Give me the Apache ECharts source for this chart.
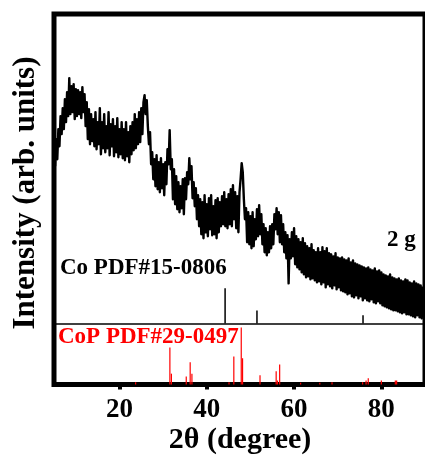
<!DOCTYPE html>
<html>
<head>
<meta charset="utf-8">
<script src="https://cdn.jsdelivr.net/npm/echarts@6/dist/echarts.min.js"></script>
<style>
html, body { margin: 0; padding: 0; background: #fff; }
#chart { width: 425px; height: 459px; }
</style>
</head>
<body>
<div id="chart"></div>
<script>
// XRD pattern of the 2 g sample
// 2theta starts at 5.25 deg, one value every 0.25 deg
const THETA_START = 5.25;
const THETA_STEP = 0.25;
const intensity = [
  218,245,225,255,238,268,250,276,
  255,285,262,292,268,306,
  270,298,272,300,265,295,
  268,294,270,292,266,297,272,
  290,258,282,245,275,
  240,270,243,265,238,272,
  235,262,240,276,230,262,236,270,
  232,258,236,272,229,260,238,265,
  228,258,232,266,227,255,230,262,
  226,255,224,262,228,252,222,258,
  230,262,234,270,236,265,
  240,272,242,276,250,282,
  289,270,284,
  258,240,252,220,232,205,
  225,198,229,195,222,192,226,196,220,189,
  222,200,235,220,254,215,
  225,185,215,180,208,175,202,172,
  198,176,205,170,206,185,212,
  200,226,205,218,
  186,202,178,196,165,189,158,
  185,150,182,146,189,152,180,
  148,186,155,189,149,178,150,184,146,186,152,
  182,158,188,160,192,158,185,
  156,190,160,195,158,199,165,192,156,188,152,192,
  205,221,212,185,
  165,176,142,172,140,168,136,172,138,
  165,145,175,148,179,150,170,
  140,160,132,156,129,152,132,158,
  136,160,140,170,155,176,150,
  172,142,169,140,160,132,152,126,149,
  101,145,126,152,128,156,120,
  148,117,145,115,142,112,146,110,141,107,
  138,108,136,105,140,106,134,104,132,
  102,136,103,132,100,137,102,133,97,136,100,131,
  98,130,96,128,99,131,95,127,97,126,94,127,
  93,125,92,124,90,126,91,122,88,124,87,121,
  89,120,86,119,88,118,84,117,86,116,84,117,
  83,115,85,114,82,116,81,113,83,114,81,112,
  79,110,78,109,77,108,76,110,75,107,74,106,
  74,105,73,106,72,104,71,103,72,105,70,104,
  70,102,69,101,68,103,67,101,69,100,67,99,66,98
];

// Co PDF#15-0806 sticks: 2theta and relative intensity (%)
const coPeaks = [44.2, 51.5, 75.8];
const coRel = [100, 37, 23];

// CoP PDF#29-0497 sticks
const copPeaks = [23.7, 31.55, 31.9, 35.3, 36.2, 36.6, 45.1, 46.2, 47.9, 48.2, 52.2, 55.9, 56.2, 56.7, 61.5, 65.9, 68.7, 75.7, 76.5, 77.0, 80.0, 83.2, 83.5];
const copRel = [4, 65, 19, 14, 39, 19, 4, 49, 100, 46, 16, 23, 7, 35, 3, 3, 4, 4, 7, 11, 7, 7, 7];

const xTicks = [20, 40, 60, 80];

// where the two reference panels sit on the y scale
const CO_BASE = 61;
const CO_SCALE = 0.35;
const COP_SCALE = 0.57;

const FONT = '"Liberation Serif", "Times New Roman", serif';

var pattern = intensity.map((v, i) => [THETA_START + i * THETA_STEP, v]);
var coSticks = coPeaks.map((x, i) => [x, CO_BASE, coRel[i] * CO_SCALE]);
var copSticks = copPeaks.map((x, i) => [x, 0, copRel[i] * COP_SCALE]);

function stickRenderer(color, width) {
  return (params, api) => {
    let p0 = api.coord([api.value(0), api.value(1)]);
    let p1 = api.coord([api.value(0), api.value(1) + api.value(2)]);
    return {
      type: 'line',
      shape: {x1: p0[0], y1: p0[1], x2: p1[0], y2: p1[1]},
      style: {stroke: color, lineWidth: width}
    };
  };
}

var chart = echarts.init(document.getElementById('chart'));
chart.setOption({
  animation: false,
  backgroundColor: '#fff',
  grid: {
    left: 54, top: 14, right: -4, bottom: 74.5,
    show: true, borderColor: '#000', borderWidth: 5
  },
  xAxis: {
    type: 'value',
    min: 5,
    max: 90,
    axisLine: {show: false},
    splitLine: {show: false},
    axisTick: {
      show: true, inside: false, length: 5,
      customValues: xTicks,
      lineStyle: {color: '#000', width: 4}
    },
    axisLabel: {
      customValues: xTicks,
      margin: 12,
      color: '#000',
      fontFamily: FONT,
      fontWeight: 'bold',
      fontSize: 27
    }
  },
  yAxis: {
    type: 'value',
    min: 0,
    max: 370,
    axisLine: {show: false},
    axisTick: {show: false},
    axisLabel: {show: false},
    splitLine: {show: false}
  },
  series: [
    {
      type: 'line',
      data: pattern,
      symbol: 'none',
      lineStyle: {color: '#000', width: 2.4, join: 'round'},
      z: 3,
      markLine: {
        silent: true,
        symbol: 'none',
        label: {show: false},
        lineStyle: {color: '#000', width: 1.5, type: 'solid'},
        data: [{yAxis: CO_BASE}]
      }
    },
    {
      type: 'custom',
      data: coSticks,
      renderItem: stickRenderer('#000', 1.5),
      z: 4
    },
    {
      type: 'custom',
      data: copSticks,
      renderItem: stickRenderer('#ff0000', 1.2),
      z: 4
    }
  ],
  graphic: [
    {
      type: 'text', left: 60, top: 257,
      style: {text: 'Co PDF#15-0806', fill: '#000', font: 'bold 23px ' + FONT}
    },
    {
      type: 'text', left: 58, top: 326,
      style: {text: 'CoP PDF#29-0497', fill: '#ff0000', font: 'bold 23px ' + FONT}
    },
    {
      type: 'text', left: 387, top: 229,
      style: {text: '2 g', fill: '#000', font: 'bold 23px ' + FONT}
    },
    {
      type: 'text', x: 26, y: 193, rotation: Math.PI / 2,
      style: {
        text: 'Intensity (arb. units)', fill: '#000',
        font: 'bold 31px ' + FONT, align: 'center', verticalAlign: 'middle'
      }
    },
    {
      type: 'text', x: 240, y: 440,
      style: {
        text: '2θ (degree)', fill: '#000',
        font: 'bold 30px ' + FONT, align: 'center', verticalAlign: 'middle'
      }
    }
  ]
});
</script>
</body>
</html>
